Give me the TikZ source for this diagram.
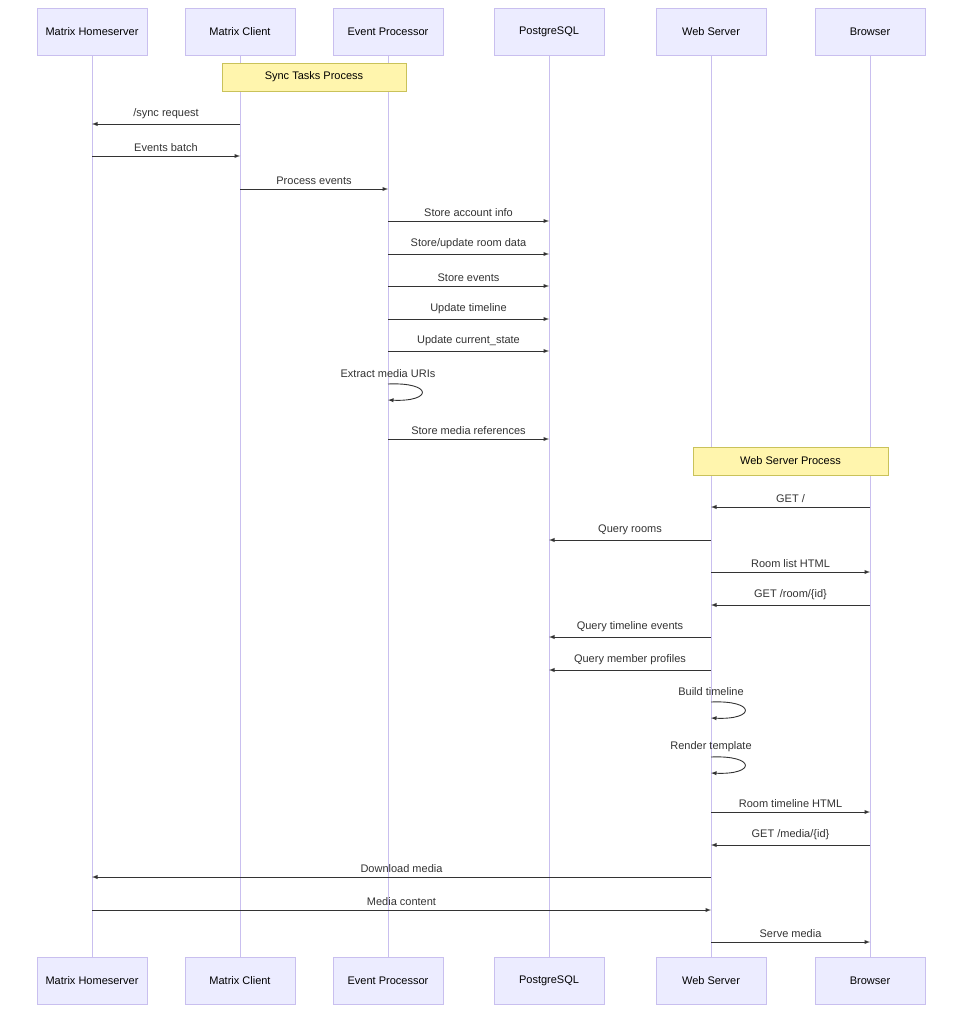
\documentclass[tikz,border=0pt]{standalone}
\usepackage{fontspec}
\setmainfont{Liberation Sans}
\usetikzlibrary{positioning}
\definecolor{actfill}{HTML}{ECECFF}
\definecolor{actline}{HTML}{C9BFEF}
\definecolor{notefill}{HTML}{FFF5AD}
\definecolor{noteline}{HTML}{C9C25A}
\definecolor{msgline}{HTML}{333333}
\tikzset{
  actor/.style={draw=actline,fill=actfill,minimum width=110pt,minimum height=47pt,font=\fontsize{11}{13}\selectfont},
  note/.style={draw=noteline,fill=notefill,minimum height=28pt,font=\fontsize{11}{13}\selectfont},
  lifeline/.style={actline,line width=0.8pt},
  msg/.style={draw=msgline,line width=0.9pt,-latex},
  lbl/.style={font=\fontsize{11}{13}\selectfont,text=msgline}
}
% message between two lifelines at height y
\newcommand{\msg}[4]{
  \draw[msg] (#1 |- 0,#3) -- node[lbl,above=1pt] {#4} (#2 |- 0,#3);
}
% self message with label above
\newcommand{\selfmsg}[3]{
  \node[lbl] at (#1 |- 0,#2) {#3};
  \draw[msg] (#1 |- 0,#2+10) .. controls ([xshift=45pt]#1 |- 0,#2+8) and ([xshift=45pt]#1 |- 0,#2+28) .. (#1 |- 0,#2+26);
}
\begin{document}
\begin{tikzpicture}[x=1pt,y=-1pt]
\useasboundingbox (0,0) rectangle (973,1024);
\fill[white] (0,0) rectangle (973,1024);
\foreach \n/\x/\t in {hs/92/Matrix Homeserver, mc/240/Matrix Client, ep/388/Event Processor,
                      pg/549/PostgreSQL, ws/711/Web Server, br/870/Browser}
{
  \draw[lifeline] (\x,55) -- (\x,957);
  \node[actor] (\n T) at (\x,31.5) {\t};
  \node[actor] (\n B) at (\x,981) {\t};
}
\node[note,minimum width=184pt] (syncnote) at (314,77) {Sync Tasks Process};
\node[note,minimum width=195pt] (webnote) at (790.5,461) {Web Server Process};

\msg{mcT}{hsT}{124}{/sync request}
\msg{hsT}{mcT}{156}{Events batch}
\msg{mcT}{epT}{189}{Process events}
\msg{epT}{pgT}{221}{Store account info}
\msg{epT}{pgT}{254}{Store/update room data}
\msg{epT}{pgT}{286}{Store events}
\msg{epT}{pgT}{319}{Update timeline}
\msg{epT}{pgT}{351}{Update current\_state}
\selfmsg{epT}{374}{Extract media URIs}
\msg{epT}{pgT}{439}{Store media references}
\msg{brT}{wsT}{507}{GET /}
\msg{wsT}{pgT}{540}{Query rooms}
\msg{wsT}{brT}{572}{Room list HTML}
\msg{brT}{wsT}{605}{GET /room/\{id\}}
\msg{wsT}{pgT}{637}{Query timeline events}
\msg{wsT}{pgT}{670}{Query member profiles}
\selfmsg{wsT}{692}{Build timeline}
\selfmsg{wsT}{747}{Render template}
\msg{wsT}{brT}{812}{Room timeline HTML}
\msg{brT}{wsT}{845}{GET /media/\{id\}}
\msg{wsT}{hsT}{877}{Download media}
\msg{hsT}{wsT}{910}{Media content}
\msg{wsT}{brT}{942}{Serve media}
\end{tikzpicture}
\end{document}
